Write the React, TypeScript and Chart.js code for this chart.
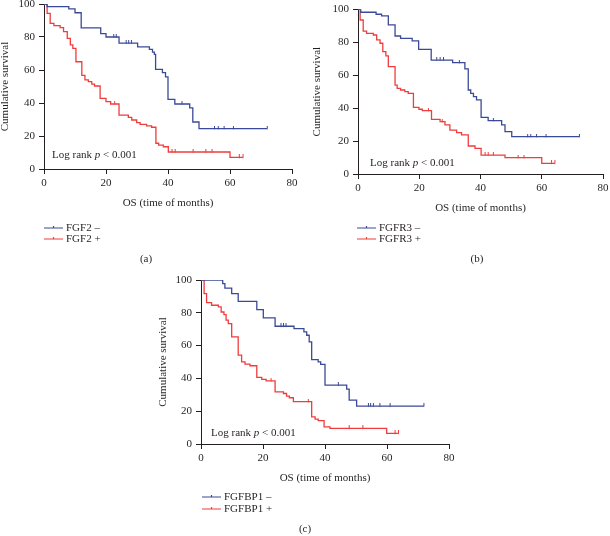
import React, { useEffect, useRef } from 'react';
import { Chart, registerables } from 'chart.js';

Chart.register(...registerables);

type KM = [number, number, number][]; // [time, survival %, censored?]

const X_TICKS = [0, 20, 40, 60, 80];
const Y_TICKS = [0, 20, 40, 60, 80, 100];
const X_TITLE = 'OS (time of months)';
const Y_TITLE = 'Cumulative survival';
const LOG_RANK = ['Log rank ', 'p', ' < 0.001'];
const PANEL_LABELS = ['(a)', '(b)', '(c)'];
const LEGENDS = [
  ['FGF2 –', 'FGF2 +'],
  ['FGFR3 –', 'FGFR3 +'],
  ['FGFBP1 –', 'FGFBP1 +'],
];

const FGF2_NEG: KM = [
  [0, 100, 0], [1, 98.4, 0], [8, 97, 0], [10, 94.7, 0], [12, 85.5, 0], [18.3, 82, 0], [20, 80, 0],
  [22.5, 80, 1], [23.3, 80, 1], [24.2, 76.3, 0], [26.5, 76.3, 1], [27.3, 76.3, 1], [28.2, 76.3, 1],
  [30.2, 74, 0], [34, 72.5, 0], [35, 70.8, 0], [35.6, 69.5, 0], [36, 60.4, 0], [38.2, 58.4, 0],
  [39.2, 55.8, 0], [40, 42.2, 0], [42.2, 39.4, 0], [44.5, 39.4, 1], [47, 37, 0], [48, 28.5, 0],
  [50, 24.5, 0], [55, 24.5, 1], [56.2, 24.5, 1], [58.1, 24.5, 1], [61.1, 24.5, 1], [72, 24.5, 1],
];
const FGF2_POS: KM = [
  [0, 100, 0], [1, 94.3, 0], [2, 88.3, 0], [3.2, 86.9, 0], [5.2, 85.7, 0], [6.3, 83.2, 0], [7.5, 79.2, 0],
  [8.5, 75.2, 0], [9.3, 73.1, 0], [10.3, 65, 0], [12.2, 56.8, 0], [13.2, 54, 0], [14.3, 52.9, 0],
  [15.4, 51.5, 0], [16.3, 50.3, 0], [18.1, 42.8, 0], [20, 40.8, 0], [21.5, 39.4, 0], [22.8, 39.4, 1],
  [24.2, 32.7, 0], [27.2, 31.3, 0], [28.3, 29.7, 0], [29.9, 28.1, 0], [31, 27.1, 0], [33.1, 26.1, 0],
  [34.7, 25.3, 0], [36.1, 15.6, 0], [37, 14.5, 0], [38.5, 13.5, 0], [40.1, 10.3, 0], [41.3, 10.3, 1],
  [42.3, 10.3, 1], [48.1, 10.3, 1], [52.2, 10.3, 1], [54.2, 10.3, 1], [60, 7, 0], [63, 7, 1], [64.2, 7, 1],
];
const FGFR3_NEG: KM = [
  [0, 100, 0], [0.9, 98.2, 0], [5.9, 97, 0], [7.7, 96, 0], [9.9, 90.5, 0], [12.1, 83.8, 0], [13.9, 82.4, 0],
  [17.7, 80.8, 0], [19.8, 75.7, 0], [23.9, 69.2, 0], [25.7, 69.2, 1], [26.8, 69.2, 1], [27.9, 69.2, 1],
  [30.9, 67.6, 0], [33.1, 67.6, 1], [34.9, 63.8, 0], [36, 51, 0], [36.8, 49, 0], [37.7, 47, 0],
  [38.7, 45, 0], [40.2, 34.4, 0], [42.5, 32.4, 0], [44.2, 32.4, 1], [46.9, 29.8, 0], [48, 25.7, 0],
  [50.2, 22.7, 0], [55.4, 22.7, 1], [56.4, 22.7, 1], [58.3, 22.7, 1], [61.4, 22.7, 1], [72.3, 22.7, 1],
];
const FGFR3_POS: KM = [
  [0, 100, 0], [0.7, 93.5, 0], [1.7, 86.8, 0], [2.8, 85.4, 0], [5, 84.4, 0], [6.1, 81.4, 0], [7.2, 79.4, 0],
  [8.1, 74.3, 0], [9.1, 71.7, 0], [9.9, 65.2, 0], [12.1, 54, 0], [12.8, 52, 0], [13.9, 51, 0], [15.3, 50, 0],
  [16.4, 49, 0], [18.1, 40.5, 0], [19.9, 39.3, 0], [21, 38.5, 0], [23, 38.5, 1], [24, 33.2, 0],
  [26.8, 31.8, 0], [27.5, 31.8, 1], [28.4, 29.8, 0], [30, 26.7, 0], [32.2, 25.1, 0], [33.8, 23.7, 0],
  [36, 17, 0], [38.2, 15.6, 0], [40.2, 11.5, 0], [41.5, 11.5, 1], [42.5, 11.5, 1], [44.2, 11.5, 1],
  [48, 9.9, 0], [52.3, 9.9, 1], [54.2, 9.9, 1], [60, 6.5, 0], [63.2, 6.5, 1], [64.3, 6.5, 1],
];
const FGFBP1_NEG: KM = [
  [0, 100, 0], [7, 97.8, 0], [7.7, 95.1, 0], [9.9, 91.7, 0], [12, 87, 0], [18, 81.9, 0], [20.1, 76.9, 0],
  [23.9, 71.8, 0], [25.8, 71.8, 1], [26.6, 71.8, 1], [27.4, 71.8, 1], [30, 70.4, 0], [33.2, 68.4, 0],
  [34.1, 66.3, 0], [34.9, 62.3, 0], [35.7, 51.5, 0], [37.8, 50.1, 0], [38.6, 48.5, 0], [40, 35.9, 0],
  [44.3, 35.9, 1], [47, 33.5, 0], [47.8, 26.8, 0], [50.2, 23.1, 0], [54, 23.1, 1], [54.7, 23.1, 1],
  [55.6, 23.1, 1], [57.7, 23.1, 1], [61, 23.1, 1], [71.9, 23.1, 1],
];
const FGFBP1_POS: KM = [
  [0, 100, 0], [1, 91.7, 0], [1.8, 86.2, 0], [3.4, 84.6, 0], [5.6, 83.6, 0], [6.5, 80.5, 0], [7.4, 78.9, 0],
  [8.1, 75.5, 0], [8.8, 73.4, 0], [9.9, 65.3, 0], [12, 54.2, 0], [13.1, 50.1, 0], [14.2, 48.7, 0],
  [15.8, 47.7, 0], [18, 40.6, 0], [19.6, 39.4, 0], [21, 38.5, 0], [22.6, 38.5, 1], [23.9, 31.8, 0],
  [26.6, 30.8, 0], [27.6, 29.2, 0], [28.5, 28.2, 0], [29.8, 25.8, 0], [34.6, 25.8, 1], [35.7, 16.6, 0],
  [36.8, 15.2, 0], [37.8, 14.2, 0], [39.7, 10.5, 0], [41.6, 9.5, 0], [47.8, 9.5, 1], [52.2, 9.5, 1],
  [59.9, 6.5, 0], [62.6, 6.5, 1], [63.7, 6.5, 1],
];

const SERIES: KM[][] = [
  [FGF2_NEG, FGF2_POS],
  [FGFR3_NEG, FGFR3_POS],
  [FGFBP1_NEG, FGFBP1_POS],
];

const BLUE = '#3b4a98';
const RED = '#f03c3c';
const INK = '#231f20';
const FAMILY = '"Liberation Serif", "DejaVu Serif", serif';
const FONT = { family: FAMILY, size: 11 };
const Y_AXIS_W = 48;
const X_AXIS_H = 45;

interface PanelLayout {
  area: { l: number; r: number; t: number; b: number };
  canvasTop: number;
  canvasBottom: number;
  yTitlePad: number;
  logRank: { x: number; y: number };
  legend: { x: number; y1: number; y2: number };
  label: { x: number; y: number };
}

const LAYOUTS: PanelLayout[] = [
  {
    area: { l: 44, r: 292, t: 4, b: 169 }, canvasTop: -20, canvasBottom: 270, yTitlePad: 2.9,
    logRank: { x: 52, y: 155 }, legend: { x: 44, y1: 228, y2: 239 }, label: { x: 146, y: 259 },
  },
  {
    area: { l: 358, r: 603, t: 9.3, b: 174 }, canvasTop: -20, canvasBottom: 270, yTitlePad: 0.4,
    logRank: { x: 370, y: 163 }, legend: { x: 357, y1: 228, y2: 239 }, label: { x: 477, y: 259 },
  },
  {
    area: { l: 201, r: 449, t: 280, b: 444 }, canvasTop: 250, canvasBottom: 536, yTitlePad: 3.4,
    logRank: { x: 211, y: 433 }, legend: { x: 202, y1: 497, y2: 509 }, label: { x: 305, y: 529 },
  },
];

// small vertical censor tick sitting on top of the curve
function censorMark(color: string): HTMLCanvasElement {
  const c = document.createElement('canvas');
  c.width = 3;
  c.height = 6;
  const g = c.getContext('2d') as CanvasRenderingContext2D;
  g.fillStyle = color;
  g.fillRect(1, 0, 1, 3.5);
  return c;
}

const annotatePlugin = {
  id: 'annotate',
  afterDraw(chart: any, _args: any, opts: any) {
    const { ctx } = chart;
    const ox = opts.ox as number;
    const oy = opts.oy as number;
    const lay = opts.layout as PanelLayout;
    ctx.save();
    ctx.fillStyle = INK;
    ctx.textBaseline = 'middle';
    let x = lay.logRank.x - ox;
    const y = lay.logRank.y - oy;
    LOG_RANK.forEach((part, i) => {
      ctx.font = `${i === 1 ? 'italic ' : ''}11px ${FAMILY}`;
      ctx.textAlign = 'left';
      ctx.fillText(part, x, y);
      x += ctx.measureText(part).width;
    });
    ctx.font = `11px ${FAMILY}`;
    const rows = [lay.legend.y1, lay.legend.y2];
    chart.data.datasets.forEach((ds: any, i: number) => {
      const ly = rows[i] - oy;
      const lx = lay.legend.x - ox;
      ctx.strokeStyle = ds.borderColor;
      ctx.lineWidth = 1.2;
      ctx.beginPath();
      ctx.moveTo(lx, ly);
      ctx.lineTo(lx + 19, ly);
      ctx.moveTo(lx + 9.5, ly - 2);
      ctx.lineTo(lx + 9.5, ly);
      ctx.stroke();
      ctx.fillStyle = INK;
      ctx.textAlign = 'left';
      ctx.fillText(ds.label, lx + 22, ly);
    });
    ctx.textAlign = 'center';
    ctx.fillText(opts.label, lay.label.x - ox, lay.label.y - oy);
    ctx.restore();
  },
};

function Panel({ index }: { index: number }) {
  const ref = useRef<HTMLCanvasElement>(null);
  const lay = LAYOUTS[index];
  const left = lay.area.l - Y_AXIS_W;
  const right = lay.area.r + 9;
  const width = right - left;
  const height = lay.canvasBottom - lay.canvasTop;

  useEffect(() => {
    const [neg, pos] = SERIES[index];
    const [negLabel, posLabel] = LEGENDS[index];
    const mk = (series: KM, label: string, color: string) => ({
      label,
      data: series.map(([t, s]) => ({ x: t, y: s })),
      stepped: true,
      borderColor: color,
      borderWidth: 1.3,
      fill: false,
      pointStyle: censorMark(color),
      pointRadius: (c: any) => (series[c.dataIndex] && series[c.dataIndex][2] ? 2 : 0),
      pointHoverRadius: 0,
    });
    const chart = new Chart(ref.current as HTMLCanvasElement, {
      type: 'line',
      data: { datasets: [mk(neg, negLabel, BLUE), mk(pos, posLabel, RED)] as any },
      plugins: [annotatePlugin],
      options: {
        animation: false,
        responsive: false,
        events: [],
        layout: {
          padding: {
            left: 0,
            top: lay.area.t - lay.canvasTop,
            right: right - lay.area.r,
            bottom: lay.canvasBottom - (lay.area.b + X_AXIS_H),
          },
        },
        plugins: {
          legend: { display: false },
          tooltip: { enabled: false },
          annotate: { ox: left, oy: lay.canvasTop, layout: lay, label: PANEL_LABELS[index] },
        } as any,
        scales: {
          x: {
            type: 'linear',
            min: 0,
            max: 80,
            afterBuildTicks: (s: any) => { s.ticks = X_TICKS.map((value) => ({ value })); },
            afterFit: (s: any) => { s.height = X_AXIS_H; },
            grid: { display: true, drawOnChartArea: false, drawTicks: true, tickLength: 5, color: INK, lineWidth: 1 },
            border: { display: true, color: INK, width: 1 },
            ticks: { color: INK, font: FONT, padding: 3, maxRotation: 0, autoSkip: false },
            title: { display: true, text: X_TITLE, color: INK, font: FONT, padding: { top: 0, bottom: 4 } },
          },
          y: {
            type: 'linear',
            min: 0,
            max: 100,
            afterBuildTicks: (s: any) => { s.ticks = Y_TICKS.map((value) => ({ value })); },
            afterFit: (s: any) => { s.width = Y_AXIS_W; },
            grid: { display: true, drawOnChartArea: false, drawTicks: true, tickLength: 5, color: INK, lineWidth: 1 },
            border: { display: true, color: INK, width: 1 },
            ticks: { color: INK, font: FONT, padding: 4, autoSkip: false },
            title: { display: true, text: Y_TITLE, color: INK, font: FONT, padding: { top: lay.yTitlePad, bottom: 0 } },
          },
        } as any,
      },
    });
    return () => chart.destroy();
  }, [index]);

  return (
    <canvas
      ref={ref}
      width={width}
      height={height}
      style={{ position: 'absolute', left, top: lay.canvasTop, width, height }}
    />
  );
}

export default function App() {
  return (
    <div
      style={{
        position: 'fixed',
        left: 0,
        top: 0,
        width: 610,
        height: 536,
        overflow: 'hidden',
        background: '#ffffff',
      }}
    >
      <Panel index={0} />
      <Panel index={1} />
      <Panel index={2} />
    </div>
  );
}
